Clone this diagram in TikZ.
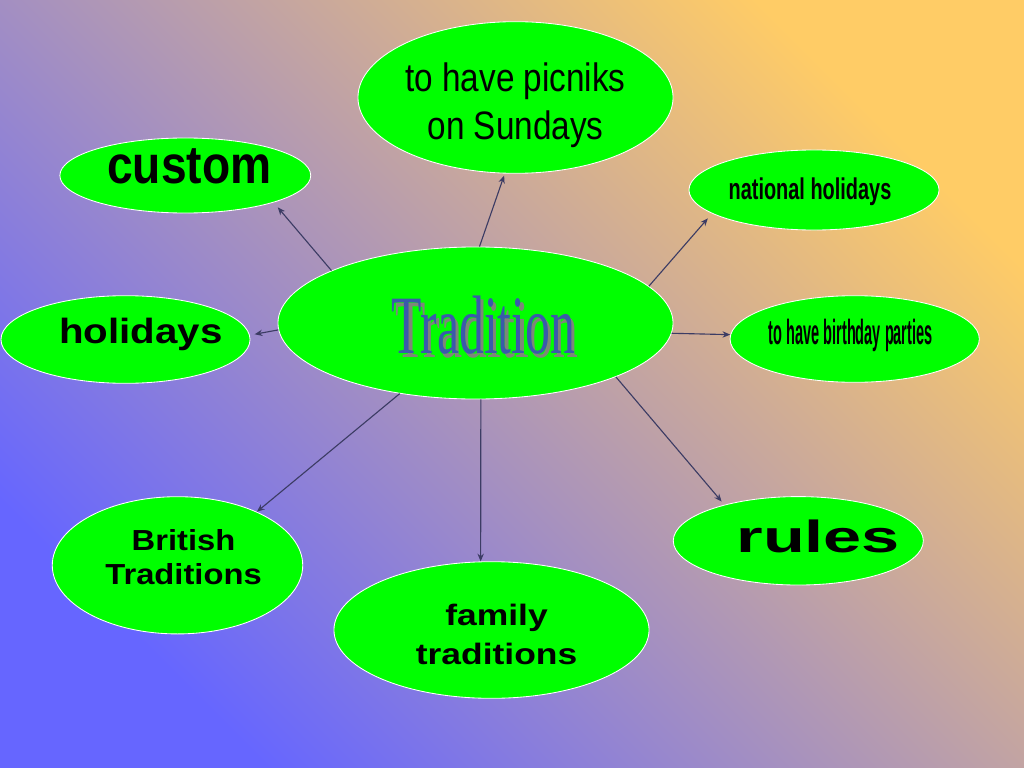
\documentclass[tikz,border=0pt]{standalone}
\usepackage{fontspec}
\setmainfont{Liberation Serif}
\setsansfont{Liberation Sans}
\usetikzlibrary{shapes.geometric,arrows.meta}
\definecolor{bgblue}{RGB}{102,102,255}
\definecolor{bgorange}{RGB}{255,204,102}
\definecolor{bubblegreen}{RGB}{0,255,0}
\definecolor{linkcol}{RGB}{60,60,100}
\definecolor{tradblue}{RGB}{58,90,170}
\definecolor{tradshadow}{RGB}{125,135,120}
\begin{document}
\begin{tikzpicture}[x=0.025cm,y=-0.025cm,
    bubble/.style={ellipse,draw=white,line width=0.6pt,fill=bubblegreen,inner sep=0pt},
    link/.style={draw=linkcol,line width=0.8pt,-{Stealth[length=5.5pt,width=4.5pt]}}]
  \useasboundingbox (0,0) rectangle (1024,768);
  \shade[bottom color=bgblue,top color=bgorange,shading angle=-45] (0,0) rectangle (1024,768);

  \node[bubble,minimum width=9.875cm,minimum height=3.8cm,text height=42.7pt,text depth=0pt,
        font=\rmfamily\fontsize{59}{64}\selectfont] (trad) at (475.5,323)
        {\kern5.7pt\scalebox{0.6}[1]{\rlap{\kern4pt\raisebox{-3pt}{\color{tradshadow}Tradition}}\color{tradblue}Tradition}\kern-5.7pt};
  \node[bubble,minimum width=7.875cm,minimum height=3.79cm,text height=0pt,text depth=8.25pt,
        font=\sffamily\fontsize{28.2}{33.9}\selectfont] (picniks) at (515.5,97.5)
        {\scalebox{0.84}[1]{\begin{tabular}[t]{@{}c@{}}to have picniks\\on Sundays\end{tabular}}};
  \node[bubble,minimum width=6.27cm,minimum height=1.875cm,text height=10.7pt,text depth=0pt,
        font=\sffamily\bfseries\fontsize{38}{46}\selectfont] (custom) at (185.3,175.5)
        {\kern2.85pt\scalebox{0.864}[1]{custom}\kern-2.85pt};
  \node[bubble,minimum width=6.25cm,minimum height=2cm,text height=14.2pt,text depth=0pt,
        font=\sffamily\bfseries\fontsize{21.3}{25}\selectfont] (national) at (814,190)
        {\kern-2.85pt\scalebox{0.665}[1]{national holidays}\kern2.85pt};
  \node[bubble,minimum width=6.225cm,minimum height=2.19cm,text height=5.4pt,text depth=0pt,
        font=\sffamily\bfseries\fontsize{24.9}{30}\selectfont] (holidays) at (125.5,339.5)
        {\kern11pt\scalebox{1.15}[1]{holidays}\kern-11pt};
  \node[bubble,minimum width=6.23cm,minimum height=2.165cm,text height=8.5pt,text depth=0pt,
        font=\sffamily\bfseries\fontsize{24.9}{30}\selectfont] (birthday) at (854.7,339)
        {\kern-2.85pt\scalebox{0.415}[1]{to have birthday parties}\kern2.85pt};
  \node[bubble,minimum width=6.26cm,minimum height=3.43cm,text height=0pt,text depth=20.8pt,
        font=\sffamily\bfseries\fontsize{20.6}{24.2}\selectfont] (british) at (177.5,565.3)
        {\kern4.3pt\scalebox{1.13}[1]{\begin{tabular}[t]{@{}c@{}}British\\Traditions\end{tabular}}\kern-4.3pt};
  \node[bubble,minimum width=7.875cm,minimum height=3.415cm,text height=0pt,text depth=5.7pt,
        font=\sffamily\bfseries\fontsize{21}{27.7}\selectfont] (family) at (491.5,630)
        {\kern3.6pt\scalebox{1.2}[1]{\begin{tabular}[t]{@{}c@{}}family\\traditions\end{tabular}}\kern-3.6pt};
  \node[bubble,minimum width=6.25cm,minimum height=2.21cm,text height=16.9pt,text depth=0pt,
        font=\sffamily\bfseries\fontsize{32}{38}\selectfont] (rules) at (798.3,540.8)
        {\kern14.2pt\scalebox{1.52}[1]{rules}\kern-14.2pt};

  \draw[link,shorten >=4.5pt] (trad.160) to (custom.-17);
  \draw[link,shorten >=1.5pt] (trad.87) to (picniks.-98);
  \draw[link,shorten >=4.5pt] (trad.12) to (national.-167);
  \draw[link] (trad.-3.5) to (birthday.178.5);
  \draw[link,shorten >=3.5pt] (trad.-178.7) to (holidays.2.4);
  \draw[link] (trad.-137.7) to (british.34.3);
  \draw[link] (trad.-86.6) to (family.99.6);
  \draw[link,shorten >=3pt] (trad.-21.4) to (rules.154.6);
\end{tikzpicture}
\end{document}
